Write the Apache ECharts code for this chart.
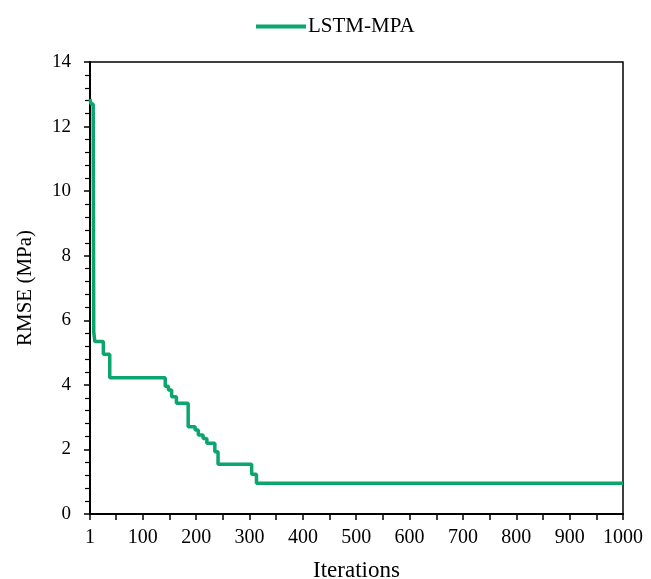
<!DOCTYPE html>
<html>
<head>
<meta charset="utf-8">
<script src="https://cdn.jsdelivr.net/npm/echarts@6/dist/echarts.min.js"></script>
<style>html,body{margin:0;padding:0;background:#fff}#c{width:651px;height:579px}</style>
</head>
<body>
<div id="c"></div>
<script>
// Iteration at which RMSE changes, and the RMSE value from that iteration on
const iterations = [1, 3, 7, 8, 10, 26, 38, 142, 148, 154, 163, 185, 198, 204, 213, 220, 235, 241, 304, 313, 1000];
const rmse = [12.85, 12.7, 12.6, 5.65, 5.34, 4.95, 4.22, 3.96, 3.84, 3.63, 3.43, 2.70, 2.60, 2.45, 2.34, 2.19, 1.93, 1.54, 1.23, 0.95, 0.95];
const xTickLabels = [1, 100, 200, 300, 400, 500, 600, 700, 800, 900, 1000];
const xTickMarks = [1, 50, 100, 150, 200, 250, 300, 350, 400, 450, 500, 550, 600, 650, 700, 750, 800, 850, 900, 950, 1000];
const seriesName = 'LSTM-MPA';

const font = '"Liberation Serif", "Times New Roman", serif';
const green = '#0BA56E';
const chart = echarts.init(document.getElementById('c'));
chart.setOption({
  animation: false,
  legend: {
    top: 11,
    left: 251,
    icon: 'rect',
    itemWidth: 50,
    itemHeight: 4,
    itemStyle: { color: green },
    textStyle: { fontFamily: font, fontSize: 21, color: '#000', padding: [0, 0, 0, -3] },
    data: [seriesName]
  },
  grid: {
    left: 90, right: 28, top: 62, bottom: 65,
    outerBoundsMode: 'none',
    containLabel: false,
    show: true, borderColor: '#000', borderWidth: 1.5, backgroundColor: 'transparent'
  },
  xAxis: {
    type: 'value',
    min: 1, max: 1000,
    name: 'Iterations',
    nameLocation: 'middle',
    nameGap: 45,
    nameTextStyle: { fontFamily: font, fontSize: 23, color: '#000' },
    axisLine: { lineStyle: { color: '#000', width: 2 } },
    axisTick: { show: true, length: 6, customValues: xTickMarks, lineStyle: { color: '#000', width: 1.5 } },
    axisLabel: {
      customValues: xTickLabels, fontFamily: font, fontSize: 20, color: '#000', margin: 14,
      formatter: v => String(v)
    },
    splitLine: { show: false }
  },
  yAxis: {
    type: 'value',
    min: 0, max: 14, interval: 2,
    name: 'RMSE (MPa)',
    nameLocation: 'middle',
    nameGap: 54,
    nameTextStyle: { fontFamily: font, fontSize: 21, color: '#000' },
    axisLine: { show: true, lineStyle: { color: '#000', width: 2 } },
    axisTick: { show: true, length: 6, lineStyle: { color: '#000', width: 1.5 } },
    minorTick: { show: true, splitNumber: 5, length: 5, lineStyle: { color: '#000', width: 1.2 } },
    axisLabel: { fontFamily: font, fontSize: 19, color: '#000', margin: 19 },
    splitLine: { show: false },
    minorSplitLine: { show: false }
  },
  series: [{
    name: seriesName,
    type: 'line',
    step: 'end',
    symbol: 'none',
    data: iterations.map((x, i) => [x, rmse[i]]),
    lineStyle: { color: green, width: 3.5 },
    itemStyle: { color: green }
  }]
});
</script>
</body>
</html>
